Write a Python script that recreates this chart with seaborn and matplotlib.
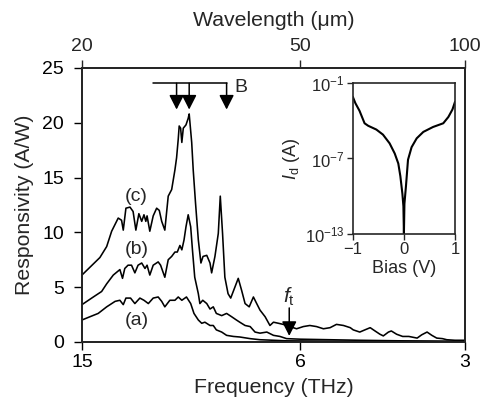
import matplotlib
matplotlib.use('Agg')
import matplotlib.pyplot as plt
import seaborn as sns
from matplotlib.ticker import FixedLocator, FixedFormatter, NullLocator

# ---------------- data ----------------
freq_c = [15.0, 13.91, 13.52, 13.24, 12.88, 12.70, 12.61, 12.47, 12.26, 12.10, 11.96, 11.81, 11.67, 11.56,
          11.47, 11.41, 11.28, 11.12, 10.96, 10.84, 10.73, 10.59, 10.44, 10.29, 10.15, 10.08, 10.01, 9.97,
          9.91, 9.86, 9.80, 9.69, 9.60, 9.56, 9.46, 9.40, 9.31, 9.20, 9.10, 9.02, 8.88, 8.76, 8.70, 8.58,
          8.46, 8.39, 8.31, 8.23, 8.12, 8.03, 7.89, 7.78, 7.67, 7.56, 7.43, 7.30, 7.20, 7.10, 6.95, 6.81,
          6.71, 6.57, 6.44, 6.26, 6.09, 5.92, 5.76, 5.60, 5.44, 5.29, 5.15, 5.00, 4.86, 4.80, 4.67, 4.57,
          4.47, 4.38, 4.29, 4.23, 4.14, 4.09, 4.00, 3.90, 3.80, 3.67, 3.60, 3.52, 3.45, 3.38, 3.30, 3.24,
          3.13, 3.00]
resp_c = [6.1, 7.7, 8.7, 10.1, 11.3, 11.1, 10.2, 12.2, 12.3, 11.9, 10.2, 11.7, 11.0, 11.6,
          11.0, 11.5, 10.1, 11.5, 12.2, 12.0, 11.0, 10.2, 13.3, 13.9, 15.7, 16.8, 18.5, 19.7,
          19.5, 18.2, 19.5, 19.8, 20.4, 20.8, 18.2, 15.7, 12.7, 9.3, 7.2, 7.8, 7.9, 7.2, 6.3, 7.8,
          9.9, 13.3, 9.9, 5.9, 4.4, 4.0, 5.0, 5.8, 4.7, 3.5, 3.2, 4.1, 3.5, 2.9, 2.3, 1.5,
          1.8, 1.7, 1.6, 1.4, 1.2, 1.4, 1.5, 1.4, 1.2, 1.3, 1.6, 1.5, 1.3, 1.1, 0.9, 1.1,
          1.3, 1.0, 0.7, 0.55, 0.9, 1.0, 0.7, 0.5, 0.5, 0.35, 0.65, 0.9, 0.6, 0.35, 0.3, 0.2,
          0.15, 0.15]

freq_b = [15.0, 14.30, 13.81, 13.52, 13.15, 12.79, 12.65, 12.53, 12.36, 12.18, 12.01, 11.85, 11.67,
          11.51, 11.41, 11.28, 11.12, 10.89, 10.78, 10.59, 10.44, 10.29, 10.15, 10.05, 9.94, 9.86,
          9.77, 9.69, 9.60, 9.50, 9.43, 9.34, 9.20, 9.14, 9.03, 8.88, 8.76, 8.64, 8.53, 8.34, 8.17,
          8.00, 7.84, 7.73, 7.56, 7.40, 7.25, 7.10, 6.90, 6.71, 6.53, 6.35, 6.00, 5.29, 4.67, 3.92,
          3.47, 3.00]
resp_b = [3.4, 4.1, 4.6, 5.3, 6.1, 6.6, 5.8, 6.7, 7.0, 7.0, 6.3, 7.0, 7.2,
          6.7, 7.0, 6.1, 7.0, 7.3, 7.0, 5.9, 7.5, 7.8, 8.2, 8.2, 8.8, 8.4,
          9.3, 10.5, 11.6, 10.5, 8.4, 5.9, 4.4, 3.5, 3.8, 3.5, 3.0, 3.2, 2.6, 2.4, 2.6,
          2.3, 2.0, 1.8, 1.5, 1.4, 0.9, 0.8, 0.9, 0.6, 0.5, 0.3, 0.25, 0.2, 0.15, 0.1,
          0.08, 0.05]

freq_a = [15.0, 14.50, 14.01, 13.52, 13.05, 12.79, 12.61, 12.47, 12.23, 12.01, 11.76, 11.56, 11.35,
          11.12, 10.89, 10.73, 10.59, 10.37, 10.15, 10.01, 9.86, 9.67, 9.50, 9.37, 9.20, 9.07, 8.95,
          8.76, 8.64, 8.53, 8.34, 8.17, 7.94, 7.73, 7.40, 7.10, 6.71, 6.35, 5.29, 3.92, 3.00]
resp_a = [2.0, 2.3, 2.6, 3.2, 3.7, 3.8, 3.4, 4.0, 4.0, 3.5, 4.0, 3.8, 3.5,
          4.0, 4.1, 3.7, 3.2, 3.8, 3.8, 4.1, 3.8, 4.1, 3.5, 2.6, 2.0, 1.7, 1.8,
          1.5, 1.5, 1.1, 0.9, 0.6, 0.5, 0.45, 0.3, 0.2, 0.15, 0.1, 0.07, 0.05, 0.03]

bias_V = [-1.0, -0.95, -0.87, -0.77, -0.70, -0.54, -0.41, -0.28, -0.18, -0.11, -0.07, -0.03, -0.01,
          0.0, 0.01, 0.04, 0.08, 0.15, 0.25, 0.38, 0.57, 0.77, 0.87, 0.95, 1.0]
dark_current_A = [8e-3, 2.5e-3, 6.3e-4, 6.3e-5, 4e-5, 2e-5, 7.9e-6, 1.6e-6, 2.5e-7, 4e-8, 4e-9, 1.6e-10,
                  1.6e-11, 1e-13, 2.5e-11, 6.3e-10, 7.9e-8, 7.9e-7, 4e-6, 1.3e-5, 3.2e-5, 6.3e-5, 2e-4,
                  7.9e-4, 3.2e-3]

freq_ticks = [15, 6, 3]
wl_ticks = [20, 50, 100]
resp_ticks = [0, 5, 10, 15, 20, 25]
B_lines_THz = [10.08, 9.56, 8.17]
B_start_THz = 11.14
f_t_THz = 6.28

# ---------------- style ----------------
sns.set_style('ticks')
plt.rcParams['font.family'] = ['Liberation Sans', 'DejaVu Sans']
plt.rcParams['mathtext.fontset'] = 'custom'
plt.rcParams['mathtext.rm'] = 'Liberation Sans'
plt.rcParams['mathtext.it'] = 'Liberation Sans:italic'
plt.rcParams['mathtext.bf'] = 'Liberation Sans:bold'

TICK_FS = 14
LABEL_FS = 15.3

fig = plt.figure(figsize=(4.82, 4.09), dpi=100)
ax = fig.add_axes([0.170, 0.164, 0.795, 0.670])
ax.set_xscale('log')

for fr, rs in [(freq_c, resp_c), (freq_b, resp_b), (freq_a, resp_a)]:
    sns.lineplot(x=fr, y=rs, ax=ax, color='black', lw=1.15, sort=False, estimator=None)

ax.set_xlim(15, 3)
ax.set_ylim(0, 25)
ax.xaxis.set_major_locator(FixedLocator(freq_ticks))
ax.xaxis.set_major_formatter(FixedFormatter([str(t) for t in freq_ticks]))
ax.xaxis.set_minor_locator(NullLocator())
ax.set_yticks(resp_ticks)
ax.set_xlabel('Frequency (THz)', fontsize=LABEL_FS, labelpad=5)
ax.set_ylabel('Responsivity (A/W)', fontsize=LABEL_FS, labelpad=6)
ax.tick_params(axis='x', direction='out', length=6, width=1, labelsize=TICK_FS, pad=3, colors='black')
ax.tick_params(axis='y', direction='out', length=6, width=1, labelsize=TICK_FS, pad=7, colors='black')
for s in ax.spines.values():
    s.set_linewidth(1.2)
    s.set_color('black')

# top wavelength axis
ax2 = ax.twiny()
ax2.set_xscale('log')
ax2.set_xlim(20, 100)
ax2.xaxis.set_major_locator(FixedLocator(wl_ticks))
ax2.xaxis.set_major_formatter(FixedFormatter([str(t) for t in wl_ticks]))
ax2.xaxis.set_minor_locator(NullLocator())
ax2.set_xlabel('Wavelength (μm)', fontsize=LABEL_FS, labelpad=9)
ax2.tick_params(axis='x', direction='out', length=6, width=1, labelsize=TICK_FS, pad=3)
for s in ax2.spines.values():
    s.set_linewidth(1.2)

# curve labels
ax.text(11.92, 13.3, '(c)', fontsize=TICK_FS, ha='center', va='center')
ax.text(11.92, 8.4, '(b)', fontsize=TICK_FS, ha='center', va='center')
ax.text(11.92, 2.0, '(a)', fontsize=TICK_FS, ha='center', va='center')

# B bracket
yb = 23.6
ax.plot([B_start_THz, B_lines_THz[-1]], [yb, yb], color='black', lw=1.1)
arrow_kw = dict(arrowstyle='-|>,head_length=0.55,head_width=0.28', color='black', lw=1.1,
                shrinkA=0, shrinkB=0, mutation_scale=16)
for fB in B_lines_THz:
    ax.annotate('', xy=(fB, 21.2), xytext=(fB, yb), arrowprops=arrow_kw)
ax.text(7.92, 23.2, 'B', fontsize=TICK_FS, ha='left', va='center')

# f_t marker
ax.annotate('', xy=(f_t_THz, 0.55), xytext=(f_t_THz, 3.1), arrowprops=arrow_kw)
ax.text(f_t_THz, 4.1, r'$f_{\rm t}$', fontsize=LABEL_FS, ha='center', va='center')

# inset
ins = fig.add_axes([0.732, 0.428, 0.212, 0.369])
ins.set_yscale('log')
sns.lineplot(x=bias_V, y=dark_current_A, ax=ins, color='black', lw=1.5, sort=False, estimator=None)
ins.set_xlim(-1, 1)
ins.set_ylim(1e-13, 1e-1)
ins.yaxis.set_major_locator(FixedLocator([1e-13, 1e-7, 1e-1]))
ins.yaxis.set_major_formatter(FixedFormatter([r'$10^{-13}$', r'$10^{-7}$', r'$10^{-1}$']))
ins.yaxis.set_minor_locator(NullLocator())
ins.set_xticks([-1, 0, 1])
ins.set_xticklabels(['\u22121', '0', '1'])
ins.tick_params(axis='both', direction='out', length=4, width=1, labelsize=12, pad=2)
ins.set_xlabel('Bias (V)', fontsize=13, labelpad=2)
ins.set_ylabel(r'$I_{\rm d}$ (A)', fontsize=13, labelpad=2)
for s in ins.spines.values():
    s.set_linewidth(1.2)

fig.savefig('out.png', dpi=100)
